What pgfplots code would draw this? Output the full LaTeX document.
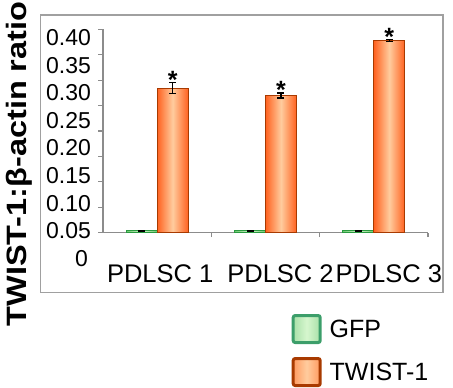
\documentclass[border=0pt]{standalone}
\usepackage{fontspec}
\setmainfont{Liberation Sans}
\usepackage{pgfplots}
\pgfplotsset{compat=1.18}
\usepackage{pgfplotstable}

\definecolor{twistedge}{HTML}{A83A00}
\definecolor{twistdark}{HTML}{FF6220}
\definecolor{twistlight}{HTML}{FFCC9E}
\definecolor{twistkey}{HTML}{FF9A60}
\definecolor{gfpedge}{HTML}{2A9A40}
\definecolor{gfpdark}{HTML}{6CC86C}
\definecolor{gfplight}{HTML}{D6F6CE}
\definecolor{gfpkeyedge}{HTML}{3C9E6A}
\definecolor{gfpkey}{HTML}{A8E0A8}
\definecolor{framegray}{HTML}{A0A0A0}
\definecolor{axisgray}{HTML}{8C8C8C}

% TWIST-1 / beta-actin expression ratio per cell line
% (bars sit 0.143 category widths left/right of each category centre)
\pgfplotstableread{
x  gx      tx     gfp    gfperr  twist  twisterr
0  -0.143  0.143  0.004  0.0004  0.284  0.0108
1  0.857   1.143  0.004  0.0004  0.270  0.0050
2  1.857   2.143  0.004  0.0004  0.378  0.0015
}\ratios

\pgfplotsset{
  errstyle/.style={
    error bars/y dir=both, error bars/y explicit,
    error bars/error bar style={black, line width=1.3pt},
    error bars/error mark options={rotate=90, black, line width=1.3pt, mark size=3.5pt}},
  gfpbar/.style={ybar, bar width=31pt, bar shift=0pt, draw=gfpedge, line width=1.2pt,
    left color=gfpdark, right color=gfpdark, middle color=gfplight, errstyle},
  twistbar/.style={ybar, bar width=31pt, bar shift=0pt, draw=twistedge, line width=1.2pt,
    left color=twistdark, right color=twistdark, middle color=twistlight, errstyle},
}

\begin{document}
\begin{tikzpicture}[x=1pt,y=1pt]
\useasboundingbox (0,0) rectangle (453,388);
\clip (0,0) rectangle (453,388);
\draw[framegray, line width=1.5pt] (40.7,95.3) rectangle (443,373);
\node[rotate=90, anchor=base west, inner sep=0pt,
      font=\fontsize{28}{28}\selectfont\bfseries] at (26.7,61.3)
      {\scalebox{1.16}[1]{TWIST-1:β-actin ratio}};

\begin{axis}[
  at={(103pt,155.3pt)}, anchor=south west,
  width=325pt, height=203.4pt, scale only axis,
  xmin=-0.5, xmax=2.5, ymin=0, ymax=0.4,
  axis x line*=bottom, axis y line*=left,
  axis line style={axisgray, line width=1.2pt, -},
  tick style={axisgray, line width=1.2pt},
  tick align=outside, major tick length=4.5pt,
  xtick={0.5,1.5,2.5}, xticklabels={},
  extra x ticks={0,1,2},
  extra x tick labels={PDLSC 1,PDLSC 2,PDLSC 3},
  extra x tick style={major tick length=0pt,
    xticklabel style={font=\fontsize{25.5}{25.5}\selectfont, anchor=base,
      xshift={ifthenelse(\ticknum==0,3,15)*1pt}, yshift=-50pt}},
  ytick={0,0.05,0.1,0.15,0.2,0.25,0.3,0.35,0.4},
  yticklabels={0,0.05,0.10,0.15,0.20,0.25,0.30,0.35,0.40},
  yticklabel style={font=\fontsize{23}{23}\selectfont, anchor=east,
    xshift={(ifthenelse(\ticknum==0,-3,0)-4)*1pt},
    yshift={-(25.7-2.18*\ticknum)*1pt}},
  legend style={at={(0.580,-0.399)}, anchor=north west, draw=none, fill=none,
    font=\fontsize{25}{25}\selectfont, inner sep=0pt, row sep=13pt,
    column sep=8pt, nodes={inner sep=0pt}},
  legend cell align=left,
  clip=false,
]

% one plot per bar so that every bar carries its own shading
\addplot[gfpbar, restrict x to domain=-0.5:0.5,
  legend image code/.code={
    \draw[gfpkeyedge, line width=3pt, rounded corners=2pt,
      left color=gfpkey, right color=gfpkey, middle color=gfplight]
      (0pt,-13.5pt) rectangle (27pt,13.5pt);}]
  table[x=gx, y=gfp, y error=gfperr] {\ratios};
\addlegendentry{GFP}

\addplot[twistbar, restrict x to domain=-0.5:0.5,
  legend image code/.code={
    \draw[twistedge, line width=3pt, rounded corners=2pt,
      left color=twistkey, right color=twistkey, middle color=twistlight]
      (0pt,-13.5pt) rectangle (27pt,13.5pt);}]
  table[x=tx, y=twist, y error=twisterr] {\ratios};
\addlegendentry{TWIST-1}

\addplot[gfpbar, forget plot, restrict x to domain=0.5:1.5]
  table[x=gx, y=gfp, y error=gfperr] {\ratios};
\addplot[gfpbar, forget plot, restrict x to domain=1.5:2.5]
  table[x=gx, y=gfp, y error=gfperr] {\ratios};
\addplot[twistbar, forget plot, restrict x to domain=0.5:1.5]
  table[x=tx, y=twist, y error=twisterr] {\ratios};
\addplot[twistbar, forget plot, restrict x to domain=1.5:2.5]
  table[x=tx, y=twist, y error=twisterr] {\ratios};

% significance marks above the TWIST-1 error bars
\addplot[draw=none, forget plot, nodes near coords={*},
  every node near coord/.append style={anchor=base, yshift=-6pt,
    inner sep=0pt, font=\fontsize{25}{25}\selectfont\bfseries, black}]
  table[x=tx, y expr=\thisrow{twist}+\thisrow{twisterr}] {\ratios};
\end{axis}
\end{tikzpicture}
\end{document}
